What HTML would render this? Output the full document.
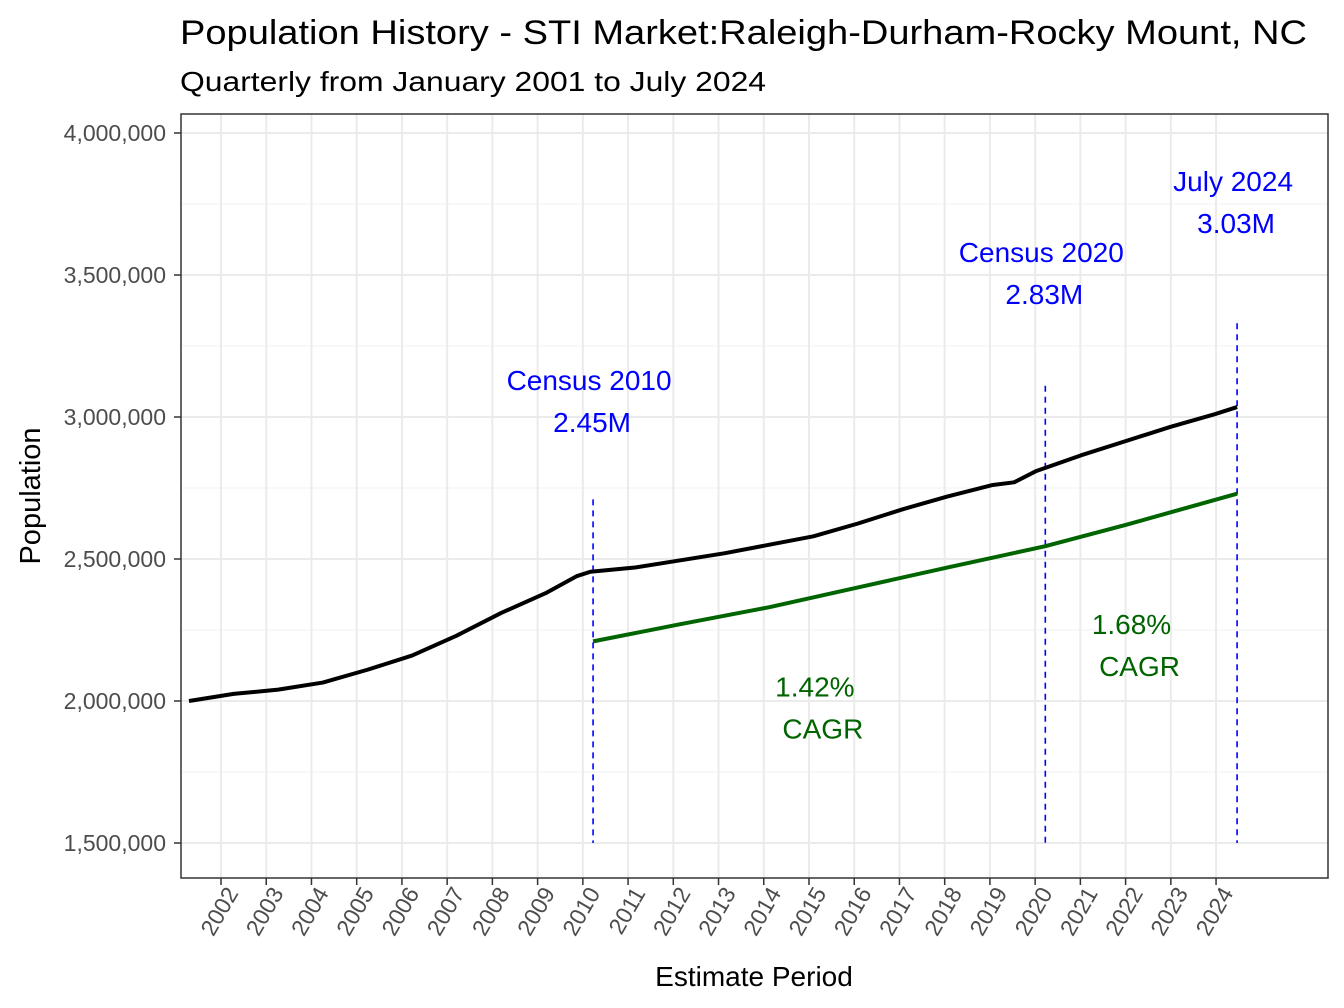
<!DOCTYPE html>
<html><head><meta charset="utf-8"><style>
body{margin:0;background:#fff;}
svg{display:block;font-family:"Liberation Sans",Arial,sans-serif;}
</style></head><body>
<svg width="1344" height="1008" viewBox="0 0 1344 1008">
<text x="180" y="44" font-size="34" fill="#000" textLength="1127" lengthAdjust="spacingAndGlyphs">Population History - STI Market:Raleigh-Durham-Rocky Mount, NC</text>
<text x="180" y="91" font-size="28" fill="#000" textLength="586" lengthAdjust="spacingAndGlyphs">Quarterly from January 2001 to July 2024</text>
<g id="grid"></g>
<g id="marks"></g>
<rect x="181" y="114" width="1147" height="764" fill="none" stroke="#333" stroke-width="1.5"/>
<g id="axes"></g>
<text x="754" y="986" font-size="28" text-anchor="middle" fill="#000">Estimate Period</text>
<text transform="translate(40,496) rotate(-90)" font-size="29" text-anchor="middle" fill="#000">Population</text>
</svg>
<script>
const popT=[2001,2002,2003,2004,2005,2006,2007,2008,2009,2009.7,2010,2011,2012,2013,2014,2015,2016,2017,2018,2019,2019.5,2020,2021,2022,2023,2024,2024.5];
const popV=[2.00,2.025,2.04,2.065,2.11,2.16,2.23,2.31,2.38,2.44,2.455,2.47,2.495,2.52,2.55,2.58,2.625,2.675,2.72,2.76,2.77,2.81,2.865,2.915,2.965,3.01,3.035];
const cagrT=[2010.06,2012,2014,2016,2018,2020.2,2022,2024.5];
const cagrV=[2.21,2.27,2.33,2.40,2.47,2.545,2.62,2.73];
const yTicks=[1.5,2.0,2.5,3.0,3.5,4.0];
const yTickLabels=["1,500,000","2,000,000","2,500,000","3,000,000","3,500,000","4,000,000"];
const xYears=[2002,2003,2004,2005,2006,2007,2008,2009,2010,2011,2012,2013,2014,2015,2016,2017,2018,2019,2020,2021,2022,2023,2024];
const vlines=[2010.06,2020.2,2024.5];
const vlineTop=[2.71,3.11,3.33];
const annT=[2010.06,2020.2,2024.5];
const annTitle=["Census 2010","Census 2020","July 2024"];
const annVal=["2.45M","2.83M","3.03M"];
const annY=[3.12,3.57,3.82];
const cagrLabels=["1.42%","1.68%"];
const cagrLabT=[2015.1,2022.2];
const cagrLabY=[2.04,2.26];

const ns="http://www.w3.org/2000/svg";
const X=t=>189+(t-2001)*44.6;
const TX=yr=>221+(yr-2002)*45.23;
const Y=v=>701-(v-2.0)*284;
function mk(tag,attrs,parent,text){const e=document.createElementNS(ns,tag);for(const k in attrs)e.setAttribute(k,attrs[k]);if(text!==undefined)e.textContent=text;parent.appendChild(e);return e;}
const grid=document.getElementById('grid'),marks=document.getElementById('marks'),axes=document.getElementById('axes');
mk('rect',{x:181,y:114,width:1147,height:764,fill:'#fff'},grid);
for(let i=0;i<yTicks.length-1;i++){const m=(yTicks[i]+yTicks[i+1])/2;
 const l=mk('line',{x1:181,x2:1328,y1:Y(m),y2:Y(m),stroke:'#f2f2f2','stroke-width':1},grid);
 }
yTicks.forEach((v,i)=>{
 const l=mk('line',{x1:181,x2:1328,y1:Y(v),y2:Y(v),stroke:'#ebebeb','stroke-width':2},grid);
 
 const tk=mk('line',{x1:174,x2:181,y1:Y(v),y2:Y(v),stroke:'#333','stroke-width':1.5},axes);
 
 const t=mk('text',{x:166,y:Y(v)+8,'font-size':23,'text-anchor':'end',fill:'#4d4d4d'},axes,yTickLabels[i]);
 
});
xYears.forEach(yr=>{
 const x=TX(yr);
 const l=mk('line',{x1:x,x2:x,y1:114,y2:878,stroke:'#ebebeb','stroke-width':2},grid);
 
 const tk=mk('line',{x1:x,x2:x,y1:878,y2:885,stroke:'#333','stroke-width':1.5},axes);
 
 const t=mk('text',{transform:`translate(${x+18},${893}) rotate(-60)`,'font-size':23,'text-anchor':'end',fill:'#4d4d4d'},axes,String(yr));
 
});
vlines.forEach((t,i)=>{
 const l=mk('line',{x1:X(t),x2:X(t),y1:Y(vlineTop[i]),y2:Y(1.5),stroke:'#0000ff','stroke-width':1.6,'stroke-dasharray':'6,5'},marks);
 
});
const p1=mk('polyline',{points:popT.map((t,i)=>X(t)+','+Y(popV[i])).join(' '),fill:'none',stroke:'#000','stroke-width':4,'stroke-linejoin':'round'},marks);

const p2=mk('polyline',{points:cagrT.map((t,i)=>X(t)+','+Y(cagrV[i])).join(' '),fill:'none',stroke:'#006400','stroke-width':4},marks);

annT.forEach((t,i)=>{
 const a=mk('text',{x:X(t)-4,y:Y(annY[i])+7,'font-size':28,'text-anchor':'middle',fill:'#0000ff'},marks,annTitle[i]);
 
 const b=mk('text',{x:X(t)-1,y:Y(annY[i])+49,'font-size':28,'text-anchor':'middle',fill:'#0000ff'},marks,annVal[i]);
 
});
cagrLabT.forEach((t,i)=>{
 const a=mk('text',{x:X(t)-3,y:Y(cagrLabY[i])+7,'font-size':28,'text-anchor':'middle',fill:'#006400'},marks,cagrLabels[i]);
 
 const b=mk('text',{x:X(t)+5,y:Y(cagrLabY[i])+49,'font-size':28,'text-anchor':'middle',fill:'#006400'},marks,'CAGR');
 
});
</script>
</body></html>
